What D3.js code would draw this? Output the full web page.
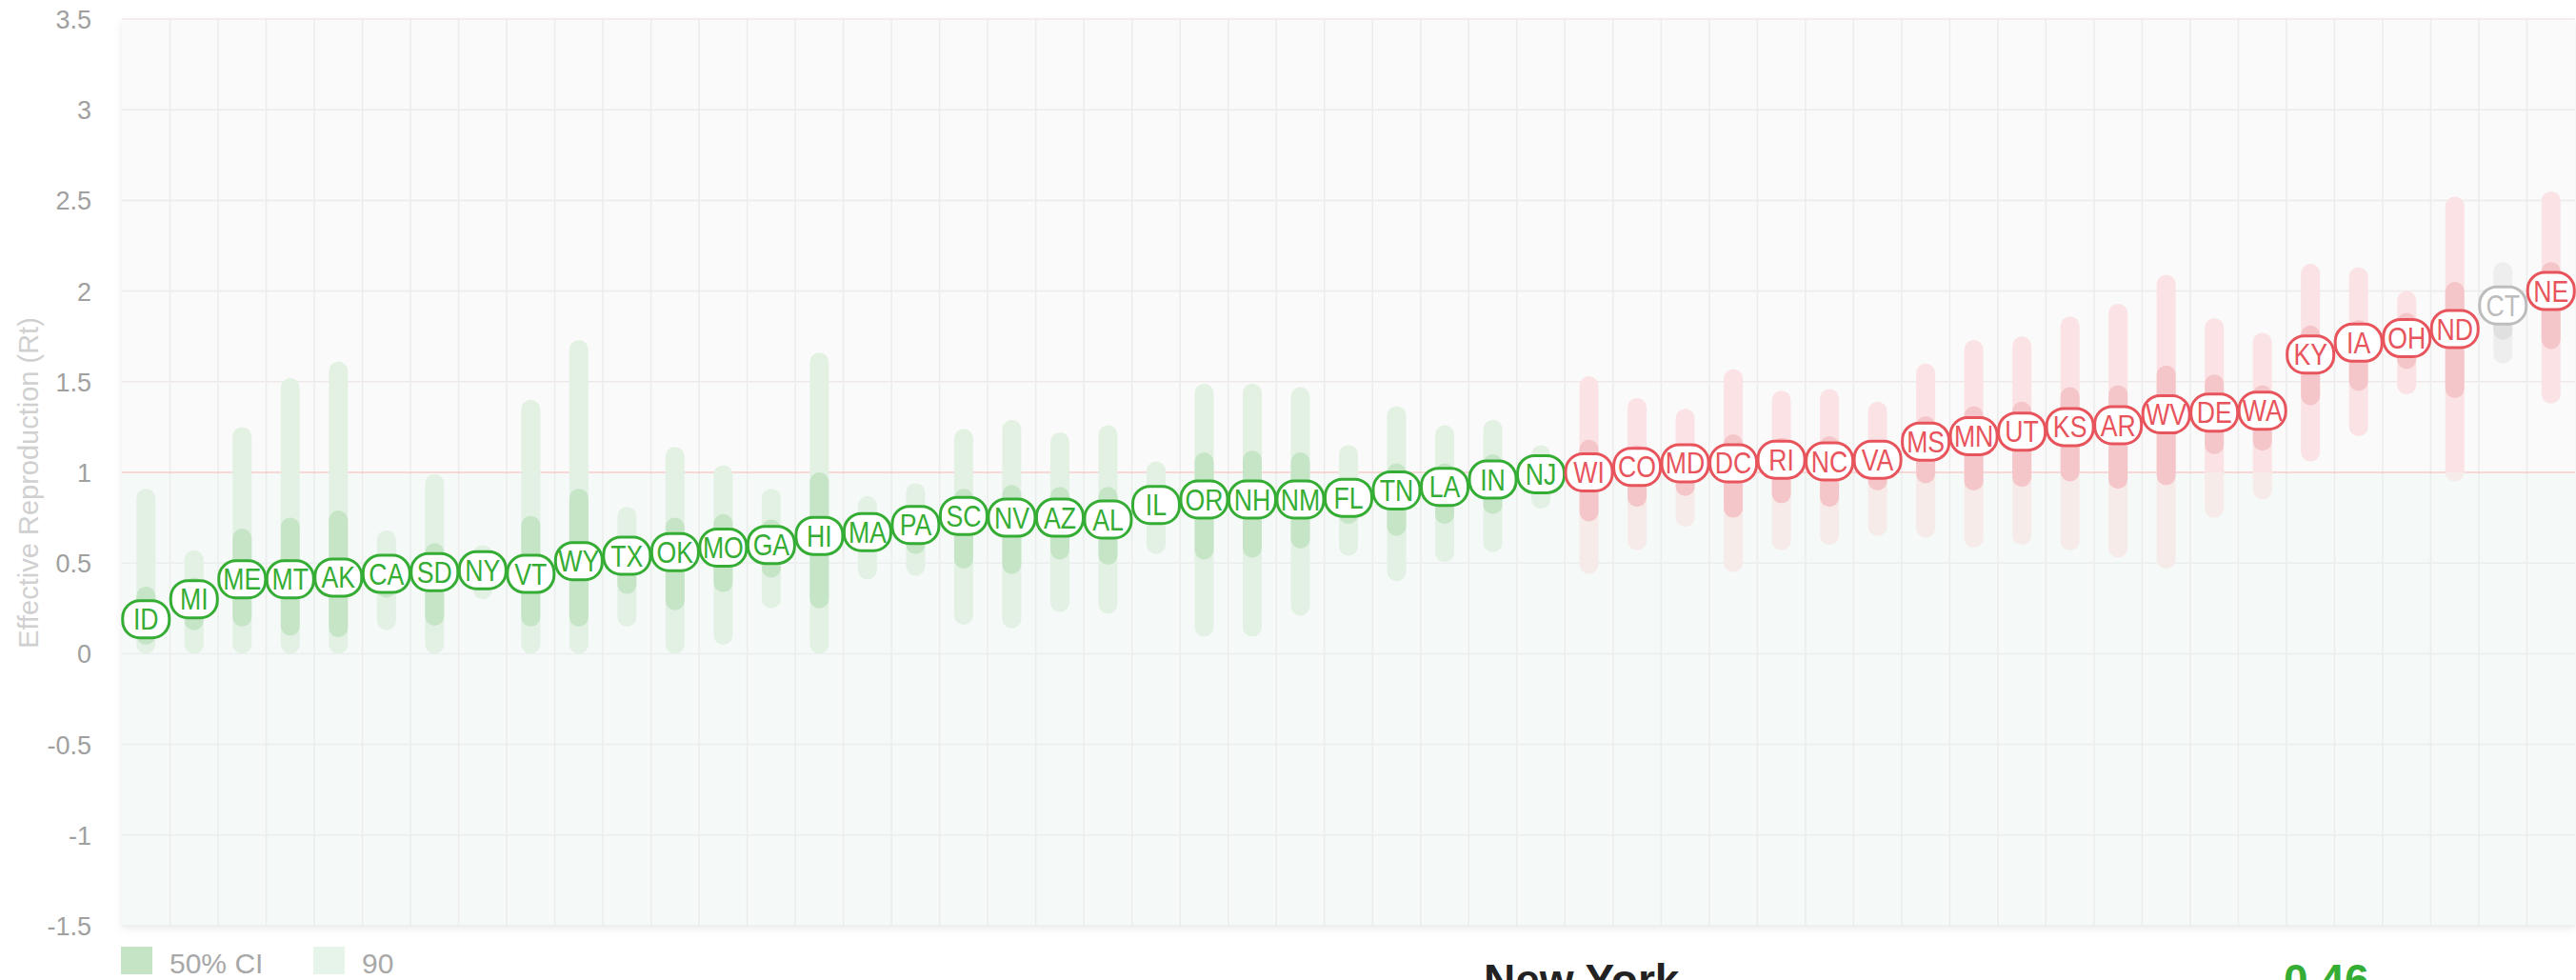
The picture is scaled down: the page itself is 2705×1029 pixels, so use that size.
<!DOCTYPE html>
<html>
<head>
<meta charset="utf-8">
<script src="https://cdn.jsdelivr.net/npm/d3@7"></script>
<style>
  html, body { margin: 0; padding: 0; background: #fff; overflow: hidden; }
  svg { display: block; }
</style>
</head>
<body>
<svg id="chart" width="2705" height="1029"></svg>
<script>
// ---- data ----
const states = ["ID","MI","ME","MT","AK","CA","SD","NY","VT","WY","TX","OK","MO","GA","HI","MA","PA","SC","NV","AZ","AL","IL","OR","NH","NM","FL","TN","LA","IN","NJ","WI","CO","MD","DC","RI","NC","VA","MS","MN","UT","KS","AR","WV","DE","WA","KY","IA","OH","ND","CT","NE"];
const median = [0.19,0.30,0.41,0.41,0.42,0.44,0.45,0.46,0.44,0.51,0.54,0.56,0.585,0.60,0.65,0.67,0.71,0.76,0.75,0.75,0.74,0.82,0.85,0.85,0.85,0.86,0.90,0.92,0.96,0.99,1.00,1.03,1.05,1.05,1.07,1.06,1.07,1.17,1.20,1.225,1.25,1.26,1.32,1.33,1.34,1.65,1.715,1.74,1.79,1.92,2.00];
const low50 = [0.05,0.13,0.15,0.10,0.09,0.31,0.155,0.40,0.15,0.15,0.33,0.24,0.34,0.42,0.25,0.56,0.55,0.47,0.44,0.52,0.49,0.71,0.52,0.53,0.58,0.715,0.65,0.715,0.77,0.92,0.73,0.81,0.87,0.75,0.83,0.81,0.90,0.94,0.90,0.92,0.95,0.91,0.93,1.10,1.12,1.37,1.45,1.57,1.41,1.73,1.68];
const high50 = [0.37,0.42,0.69,0.75,0.79,0.55,0.61,0.52,0.76,0.91,0.62,0.75,0.77,0.74,1.00,0.78,0.82,0.91,0.93,0.92,0.92,0.92,1.11,1.12,1.11,0.97,1.05,1.05,1.10,1.06,1.18,1.15,1.16,1.21,1.19,1.20,1.17,1.31,1.365,1.39,1.47,1.48,1.59,1.54,1.48,1.81,1.84,1.88,2.05,2.00,2.16];
const low90 = [0,0,0,0,0,0.13,0,0.30,0,0,0.15,0,0.05,0.25,0,0.41,0.43,0.16,0.14,0.23,0.22,0.55,0.095,0.095,0.21,0.54,0.40,0.505,0.56,0.80,0.44,0.57,0.70,0.45,0.57,0.60,0.65,0.64,0.585,0.60,0.57,0.53,0.47,0.75,0.85,1.06,1.20,1.43,0.95,1.60,1.38];
const high90 = [0.91,0.57,1.25,1.52,1.61,0.68,0.99,0.60,1.40,1.73,0.81,1.14,1.04,0.91,1.66,0.87,0.94,1.24,1.29,1.22,1.26,1.06,1.49,1.49,1.47,1.15,1.365,1.26,1.29,1.15,1.53,1.41,1.35,1.57,1.45,1.46,1.39,1.60,1.73,1.75,1.86,1.93,2.09,1.85,1.77,2.15,2.13,2.00,2.52,2.16,2.55];
const noDataStates = ["CT"];
const yTicks = [3.5,3,2.5,2,1.5,1,0.5,0,-0.5,-1,-1.5];
const legendLabels = ["50% CI","90"];
const selectedName = "New York";
const selectedValue = "0.46";

// ---- layout ----
const svg = d3.select("#chart");
const pLeft = 128, pRight = 2704, pTop = 20, pBottom = 972;

const x = d3.scaleBand().domain(states).range([pLeft, pRight]).padding(0);
const y = d3.scaleLinear().domain([-1.5, 3.5]).range([pBottom, pTop]);

const GREEN = "#35ad35", RED = "#e8545c", GRAY = "#bdbdbd";
const colorOf = (s, m) => noDataStates.includes(s) ? "gray" : (m < 1 ? "green" : "red");
const stroke = {green: GREEN, red: RED, gray: GRAY};
const fill50 = {green: "#c6e5c6", red: "#f5c6c9", gray: "#e0e0e0"};
const fill90Above = {green: "#e3f1e3", red: "#fbe2e4", gray: "#eeeeee"};
const fill90Below = {green: "#e2f1e4", red: "#f6ebe8", gray: "#ececec"};
const FONT = "'Liberation Sans', Arial, sans-serif";

const defs = svg.append("defs");
const f = defs.append("filter").attr("id","shadow").attr("x","-2%").attr("y","-2%").attr("width","104%").attr("height","106%");
f.append("feDropShadow").attr("dx",0).attr("dy",3).attr("stdDeviation",4).attr("flood-color","#000").attr("flood-opacity",0.08);
defs.append("clipPath").attr("id","above1").append("rect")
  .attr("x", 0).attr("y", 0).attr("width", 2705).attr("height", y(1));
defs.append("clipPath").attr("id","below1").append("rect")
  .attr("x", 0).attr("y", y(1)).attr("width", 2705).attr("height", 1029 - y(1));

// plot background
svg.append("rect").attr("x", pLeft).attr("y", pTop).attr("width", pRight - pLeft).attr("height", pBottom - pTop)
  .attr("fill", "#fafafa").attr("filter", "url(#shadow)");
svg.append("rect").attr("x", pLeft).attr("y", y(1)).attr("width", pRight - pLeft).attr("height", pBottom - y(1))
  .attr("fill", "#f5f9f8");

// grid
const grid = svg.append("g");
grid.selectAll("line.h").data(yTicks.filter(v => v !== 1)).join("line")
  .attr("x1", pLeft).attr("x2", pRight).attr("y1", d => y(d)).attr("y2", d => y(d))
  .attr("stroke", d => d > 1 ? "#f0e9ea" : "#eaefee").attr("stroke-width", 1.5);
grid.selectAll("line.v").data(states.slice(1)).join("line")
  .attr("x1", d => x(d)).attr("x2", d => x(d)).attr("y1", pTop).attr("y2", pBottom)
  .attr("stroke", "#ececec").attr("stroke-width", 1.5);
grid.append("line").attr("x1", pLeft).attr("x2", pRight).attr("y1", y(1)).attr("y2", y(1))
  .attr("stroke", "#f6cccc").attr("stroke-width", 1.5);

// data rows
const rows = states.map((s, i) => ({
  s, m: median[i], l50: low50[i], h50: high50[i], l90: low90[i], h90: high90[i],
  c: colorOf(s, median[i])
}));

const barW = 20;
const bars = svg.append("g");
bars.selectAll("rect.b90a").data(rows).join("rect")
  .attr("clip-path", "url(#above1)")
  .attr("x", d => x(d.s) + x.bandwidth()/2 - barW/2).attr("width", barW)
  .attr("y", d => y(d.h90)).attr("height", d => y(d.l90) - y(d.h90))
  .attr("rx", barW/2).attr("fill", d => fill90Above[d.c]);
bars.selectAll("rect.b90b").data(rows).join("rect")
  .attr("clip-path", "url(#below1)")
  .attr("x", d => x(d.s) + x.bandwidth()/2 - barW/2).attr("width", barW)
  .attr("y", d => y(d.h90)).attr("height", d => y(d.l90) - y(d.h90))
  .attr("rx", barW/2).attr("fill", d => fill90Below[d.c]);
bars.selectAll("rect.b50").data(rows).join("rect")
  .attr("x", d => x(d.s) + x.bandwidth()/2 - barW/2).attr("width", barW)
  .attr("y", d => y(d.h50)).attr("height", d => y(d.l50) - y(d.h50))
  .attr("rx", barW/2).attr("fill", d => fill50[d.c]);

// pills
const pw = 49, ph = 39;
const pills = svg.append("g").selectAll("g").data(rows).join("g")
  .attr("transform", d => `translate(${x(d.s) + x.bandwidth()/2},${y(d.m)})`);
pills.append("rect").attr("x", -pw/2).attr("y", -ph/2).attr("width", pw).attr("height", ph)
  .attr("rx", 18).attr("fill", "#fff").attr("stroke", d => stroke[d.c]).attr("stroke-width", 3);
pills.append("text").text(d => d.s)
  .attr("text-anchor", "middle").attr("y", 11)
  .attr("transform", "scale(0.86,1)")
  .attr("font-family", FONT).attr("font-size", 31)
  .attr("fill", d => stroke[d.c]);

// y axis
const yAxis = d3.axisLeft(y).tickValues(yTicks).tickSize(0).tickPadding(0).tickFormat(d => String(d));
const ag = svg.append("g").attr("transform", "translate(96,0)").call(yAxis);
ag.select(".domain").remove();
ag.selectAll("text").attr("font-family", FONT)
  .attr("font-size", 27).attr("fill", "#a0a0a0").attr("dy", "0.35em");

svg.append("text").text("Effective Reproduction (Rt)")
  .attr("transform", "translate(40,507) rotate(-90)")
  .attr("text-anchor", "middle")
  .attr("font-family", FONT)
  .attr("font-size", 29).attr("fill", "#d0d0d0");

// legend
const legendColors = ["#c5e4c5", "#e7f4e9"];
const legendX = [127, 329];
const lg = svg.append("g").selectAll("g").data(legendLabels).join("g")
  .attr("transform", (d, i) => `translate(${legendX[i]},994)`);
lg.append("rect").attr("width", 33).attr("height", 29).attr("fill", (d, i) => legendColors[i]);
lg.append("text").text(d => d).attr("x", 51).attr("y", 28)
  .attr("font-family", FONT)
  .attr("font-size", 30).attr("fill", "#a8a8a8");

// selected state info (partly below the bottom edge, as in the reference)
svg.append("text").text(selectedName).attr("x", 1558).attr("y", 1045)
  .attr("font-family", FONT).attr("font-weight", "bold")
  .attr("font-size", 46).attr("fill", "#222");
svg.append("text").text(selectedValue).attr("x", 2398).attr("y", 1045)
  .attr("font-family", FONT).attr("font-weight", "bold")
  .attr("font-size", 46).attr("fill", GREEN);
</script>
</body>
</html>
